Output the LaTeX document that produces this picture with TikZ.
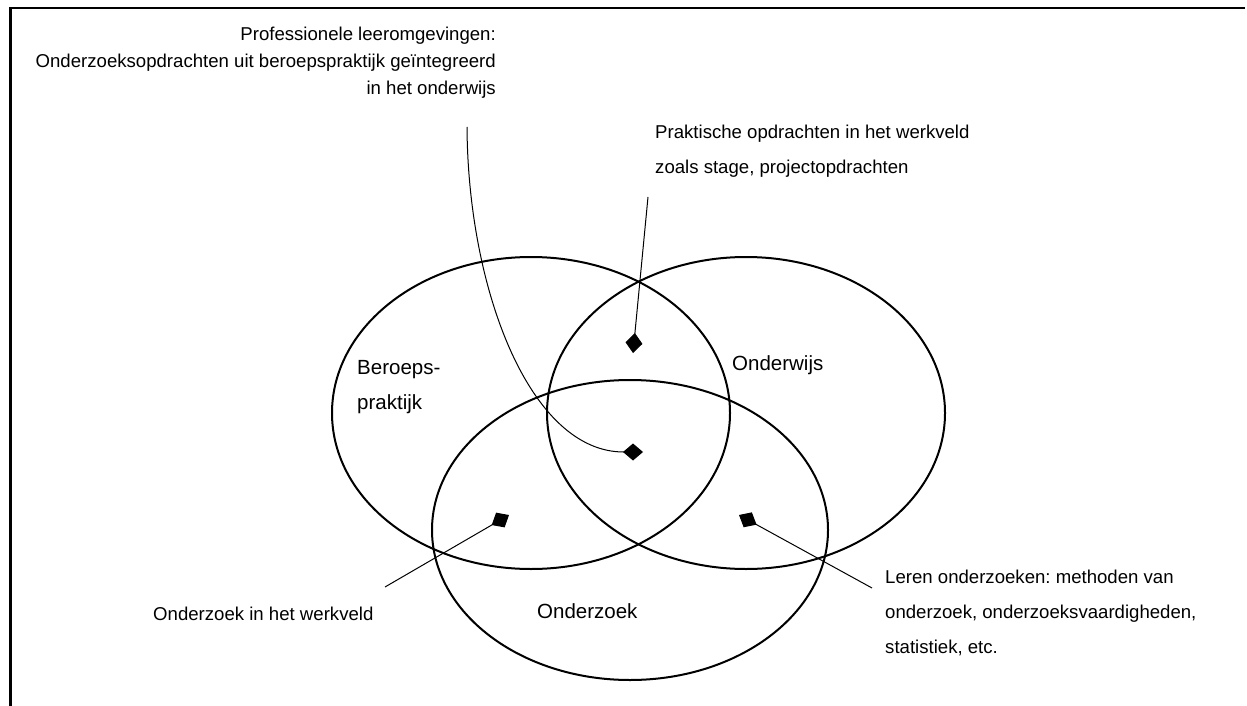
\documentclass[tikz,border=0pt]{standalone}
\usepackage{fontspec}
\setmainfont{Liberation Sans}
\usetikzlibrary{arrows.meta}
\frenchspacing
\tikzset{
  venn/.style={draw, line width=2pt},
  pointer/.style={draw, line width=1pt, -{Diamond[length=20pt, width=17pt]}},
  notetext/.style={inner sep=0pt, font=\fontsize{18.6}{27}\selectfont},
  notewide/.style={inner sep=0pt, font=\fontsize{18.6}{35}\selectfont},
  settext/.style={inner sep=0pt, font=\fontsize{20.5}{35}\selectfont}
}
\begin{document}
\begin{tikzpicture}[x=1pt,y=-1pt]
      \useasboundingbox (0,0) rectangle (1247,706);
      % frame
      \draw[line width=2.5pt] (10.5,706) -- (10.5,8) -- (1245,8);
      \def \Sets{
        beroep/531/413/199/156,
        onderwijs/746/413/199/156,
        onderzoek/630/530/198/150}
      \foreach \id / \x / \y / \rx / \ry in \Sets{
        \coordinate (\id) at (\x, \y);
        \draw[venn] (\id) ellipse [x radius=\rx, y radius=\ry];
      }
      % labels of the sets
      \node[settext, anchor=north west, align=left] (beroeptext) at (357,360) {Beroeps-\\praktijk};
      \node[settext, anchor=base west] (onderwijstext) at (732,370) {Onderwijs};
      \node[settext, anchor=base west] (onderzoektext) at (537,618) {Onderzoek};
      % notes
      \node[notetext, anchor=north east, align=right] (prof) at (496,26.5)
        {Professionele leeromgevingen:\\Onderzoeksopdrachten uit beroepspraktijk geïntegreerd\\in het onderwijs};
      \node[notewide, anchor=north west, align=left] (prakt) at (655,124.5)
        {Praktische opdrachten in het werkveld\\zoals stage, projectopdrachten};
      \node[notetext, anchor=base west] (werkveld) at (153,620.5) {Onderzoek in het werkveld};
      \node[notewide, anchor=north west, align=left] (leren) at (885,569.8)
        {Leren onderzoeken: methoden van\\onderzoek, onderzoeksvaardigheden,\\statistiek, etc.};
      % pointers
      \def \Marks{
        profstart/467/127,
        praktstart/648/197,
        werkveldstart/385/587,
        lerenstart/872/588,
        midmark/643/452,
        topmark/633/353,
        leftmark/509/515,
        rightmark/739/515}
      \foreach \id / \x / \y in \Marks{
        \coordinate (\id) at (\x, \y);
      }
      \path[pointer] (profstart) .. controls (468,290) and (530,452) .. (midmark);
      \foreach \x / \y in {praktstart/topmark, werkveldstart/leftmark, lerenstart/rightmark}{
        \path[pointer] (\x) -- (\y);
      }
    \end{tikzpicture}
\end{document}
